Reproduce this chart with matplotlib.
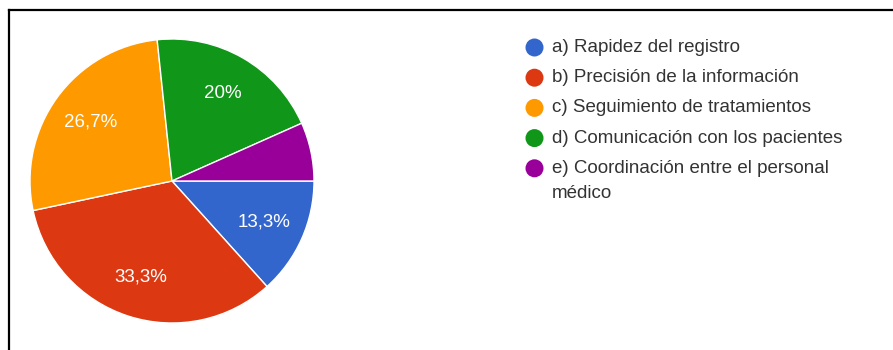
import matplotlib
matplotlib.use("Agg")
import matplotlib.pyplot as plt
from matplotlib.lines import Line2D
from matplotlib.patches import Circle

plt.rcParams['font.family'] = ['Liberation Sans', 'DejaVu Sans']

# Respuestas por opción (15 en total)
opciones = [
    "a) Rapidez del registro",
    "b) Precisión de la información",
    "c) Seguimiento de tratamientos",
    "d) Comunicación con los pacientes",
    "e) Coordinación entre el personal\nmédico",
]
respuestas = [2, 5, 4, 3, 1]
colores = ["#3366CC", "#DC3912", "#FF9900", "#109618", "#990099"]


def etiqueta(pct):
    # Las porciones pequeñas quedan sin texto
    if pct < 10:
        return ""
    txt = f"{pct:.1f}".rstrip("0").rstrip(".")
    return txt.replace(".", ",") + "%"


fig = plt.figure(figsize=(8.93, 3.5), dpi=100)
W, H = 893, 350

# Pastel
cx, cy, r = 172, 181, 142
ax = fig.add_axes([(cx - r) / W, (H - cy - r) / H, 2 * r / W, 2 * r / H])
ax.pie(
    respuestas, colors=colores, startangle=0, counterclock=False,
    autopct=etiqueta, pctdistance=0.71, radius=1,
    wedgeprops=dict(edgecolor="white", linewidth=1),
    textprops=dict(color="white", fontsize=13.5),
)
ax.set_xlim(-1, 1)
ax.set_ylim(-1, 1)
ax.set_aspect("equal")
ax.axis("off")

# Capa superior en píxeles para la leyenda y el marco
top = fig.add_axes([0, 0, 1, 1], facecolor="none")
top.set_xlim(0, W)
top.set_ylim(H, 0)
top.axis("off")

top.add_line(Line2D([9, W], [10, 10], color="black", linewidth=1.6))
top.add_line(Line2D([9, 9], [10, H], color="black", linewidth=1.6))

y0, paso = 47.5, 30.2
for i, (nombre, color) in enumerate(zip(opciones, colores)):
    y = y0 + i * paso
    top.add_patch(Circle((534.5, y), 9, facecolor=color, edgecolor="none"))
    for j, linea in enumerate(nombre.split("\n")):
        top.text(552, y + j * 25.5, linea, fontsize=13.5, color="#333333",
                 va="center")

fig.savefig("out.png", dpi=100)
